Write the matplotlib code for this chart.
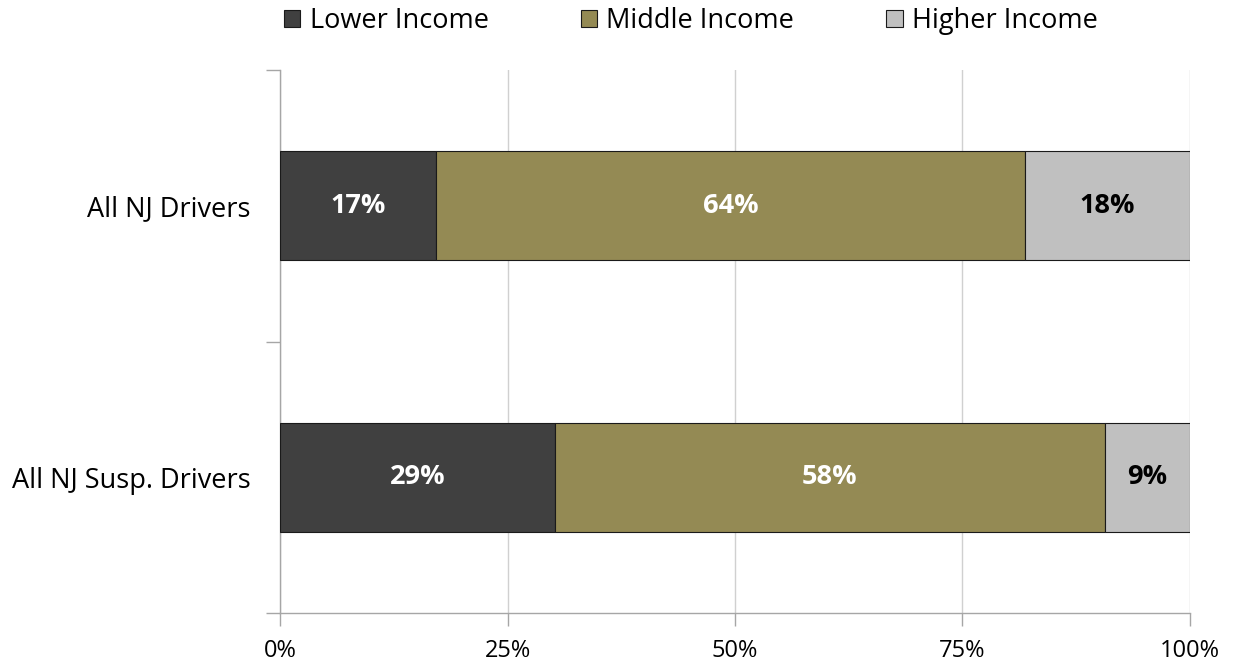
import numpy as np
import matplotlib.pyplot as plt
from matplotlib.ticker import FixedLocator, PercentFormatter

plt.rcParams['font.family'] = ['Open Sans', 'DejaVu Sans']

# category rows, top to bottom
groups = ['All NJ Drivers', 'All NJ Susp. Drivers']
series = ['Lower Income', 'Middle Income', 'Higher Income']
lower = [17, 29]
middle = [64, 58]
higher = [18, 9]
colors = ['#404040', '#948A54', '#C0C0C0']
label_colors = ['white', 'white', 'black']

vals = np.array([lower, middle, higher], dtype=float)
shares = vals / vals.sum(axis=0) * 100   # 100% stacked

fig = plt.figure(figsize=(12.33, 6.65), dpi=100)
ax = fig.add_axes([0.2271, 0.0782, 0.738, 0.8165])

ypos = np.arange(len(groups))
left = np.zeros(len(groups))
for i, name in enumerate(series):
    bars = ax.barh(ypos, shares[i], left=left, height=0.4, color=colors[i],
                   edgecolor='#1a1a1a', linewidth=0.8, label=name, zorder=3)
    for j, b in enumerate(bars):
        ax.text(left[j] + shares[i][j] / 2, ypos[j], f'{int(vals[i][j])}%',
                ha='center', va='center', fontsize=19.5, fontweight='bold',
                color=label_colors[i], zorder=4)
    left += shares[i]

ax.set_xlim(0, 100)
ax.set_ylim(len(groups) - 0.5, -0.5)
ax.xaxis.set_major_locator(FixedLocator([0, 25, 50, 75, 100]))
ax.xaxis.set_major_formatter(PercentFormatter(decimals=0))
ax.set_yticks(ypos)
ax.set_yticklabels(groups)
ax.yaxis.set_minor_locator(FixedLocator([-0.5, 0.5, 1.5]))
ax.tick_params(axis='y', which='major', length=0, pad=21, labelsize=19.5)
ax.tick_params(axis='y', which='minor', length=10, color='#a6a6a6', width=1)
ax.tick_params(axis='x', length=9, color='#a6a6a6', width=1, pad=10, labelsize=17)

ax.grid(axis='x', color='#d0d0d0', linewidth=1, zorder=0)
for s in ['top', 'right']:
    ax.spines[s].set_visible(False)
for s in ['left', 'bottom']:
    ax.spines[s].set_color('#a6a6a6')
    ax.spines[s].set_linewidth(1)

fig.legend(loc='center', bbox_to_anchor=(0.5604, 0.968), ncol=3, frameon=False,
           fontsize=19.5, handlelength=0.6, handleheight=0.6, handletextpad=0.35,
           columnspacing=3.4, borderaxespad=0)

fig.savefig('out.png', dpi=100)
